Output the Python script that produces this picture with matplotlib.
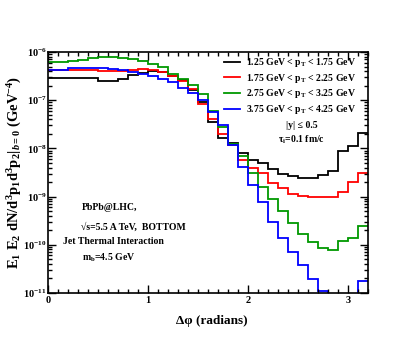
import numpy as np
import matplotlib
matplotlib.use("Agg")
import matplotlib.pyplot as plt
from matplotlib.ticker import MultipleLocator, LogLocator, NullFormatter

plt.rcParams['font.family'] = ['Liberation Serif', 'DejaVu Serif']
plt.rcParams['font.weight'] = 'bold'
plt.rcParams['mathtext.fontset'] = 'custom'
plt.rcParams['mathtext.rm'] = 'Liberation Serif:bold'
plt.rcParams['mathtext.it'] = 'Liberation Serif:italic:bold'
plt.rcParams['mathtext.bf'] = 'Liberation Serif:bold'

# bin edges in delta phi (0.1 rad bins)
edges = np.round(np.arange(0, 3.21, 0.1), 2)

# log10 of the yields, one value per bin
log_pt125 = [-6.54, -6.54, -6.54, -6.54, -6.54, -6.60, -6.60, -6.57, -6.48, -6.44,
             -6.40, -6.42, -6.50, -6.58, -6.79, -7.03, -7.45, -7.79, -7.88, -8.10,
             -8.24, -8.30, -8.42, -8.53, -8.57, -8.61, -8.61, -8.55, -8.47, -8.05,
             -7.96, -7.68]
log_pt175 = [-6.38, -6.38, -6.38, -6.38, -6.38, -6.39, -6.39, -6.39, -6.38, -6.35,
             -6.37, -6.42, -6.50, -6.60, -6.76, -7.07, -7.40, -7.71, -7.93, -8.24,
             -8.40, -8.52, -8.72, -8.83, -8.95, -8.98, -9.01, -9.00, -9.01, -8.90,
             -8.70, -8.52]
log_pt275 = [-6.21, -6.21, -6.19, -6.16, -6.13, -6.11, -6.11, -6.12, -6.15, -6.19,
             -6.24, -6.32, -6.45, -6.57, -6.69, -6.88, -7.22, -7.55, -7.90, -8.15,
             -8.50, -8.80, -9.06, -9.30, -9.55, -9.78, -9.95, -10.07, -10.11, -9.93,
             -9.86, -9.61]
log_pt375 = [-6.38, -6.38, -6.34, -6.34, -6.34, -6.34, -6.35, -6.37, -6.42, -6.46,
             -6.50, -6.56, -6.63, -6.74, -6.86, -7.00, -7.25, -7.52, -7.92, -8.39,
             -8.76, -9.11, -9.52, -9.86, -10.14, -10.42, -10.71, -10.95, -13.0, -13.0,
             -13.0, -10.76]

labels = ["1.25 GeV < p$_{\\rm T}$ < 1.75 GeV",
          "1.75 GeV < p$_{\\rm T}$ < 2.25 GeV",
          "2.75 GeV < p$_{\\rm T}$ < 3.25 GeV",
          "3.75 GeV < p$_{\\rm T}$ < 4.25 GeV"]
colors = ["black", "#ff0000", "#009900", "#0000ff"]

W, H = 415, 346
fig = plt.figure(figsize=(W/100, H/100), dpi=100)
ax = fig.add_axes([48/W, 1-293/H, 320/W, 241/H])

for logs, lab, col in zip([log_pt125, log_pt175, log_pt275, log_pt375], labels, colors):
    ax.stairs(10.0**np.array(logs), edges, baseline=None, color=col, lw=1.3, label=lab)

ax.set_yscale('log')
ax.set_xlim(0, 3.2)
ax.set_ylim(1e-11, 1e-6)

ax.xaxis.set_major_locator(MultipleLocator(1))
ax.xaxis.set_minor_locator(MultipleLocator(0.1))
ax.yaxis.set_major_locator(LogLocator(base=10, numticks=10))
ax.yaxis.set_minor_locator(LogLocator(base=10, subs=np.arange(2, 10), numticks=20))
ax.yaxis.set_minor_formatter(NullFormatter())
ax.tick_params(which='both', direction='in', top=True, right=True, labelsize=7.5, width=1.0)
ax.tick_params(which='major', length=6)
ax.tick_params(which='minor', length=3)
ax.tick_params(axis='x', pad=2)
ax.tick_params(axis='y', pad=1)
for s in ax.spines.values():
    s.set_linewidth(1.2)

fig.text(212/W, 1-321/H, "\u0394\u03c6 (radians)", ha='center', va='center', fontsize=9.5)
fig.text(15/W, 1-172/H, "E$_1$ E$_2$ dN/d$^3$p$_1$d$^3$p$_2$|$_{b=0}$ (GeV$^{-4}$)",
         rotation=90, ha='center', va='center', fontsize=10.5)

leg = ax.legend(loc='upper left', bbox_to_anchor=(222/W, 1-54/H), bbox_transform=fig.transFigure,
                frameon=False, handlelength=1.6, handletextpad=0.7, labelspacing=0.28,
                borderaxespad=0, borderpad=0.2, prop={'weight': 'bold', 'size': 7})

fig.text(302/W, 1-126/H, "|y| \u2264 0.5", ha='center', va='center', fontsize=7)
fig.text(302/W, 1-140/H, "\u03c4$_{\\rm i}$=0.1 fm/c", ha='center', va='center', fontsize=7)

txt = [("PbPb@LHC,", 82, 208), ("\u221as=5.5 A TeV,  BOTTOM", 81, 227),
       ("Jet Thermal Interaction", 63, 242), ("m$_{\\rm b}$=4.5 GeV", 82, 258)]
for t, px, py in txt:
    fig.text(px/W, 1-py/H, t, ha='left', va='center', fontsize=7)

fig.savefig("out.png", dpi=100)
